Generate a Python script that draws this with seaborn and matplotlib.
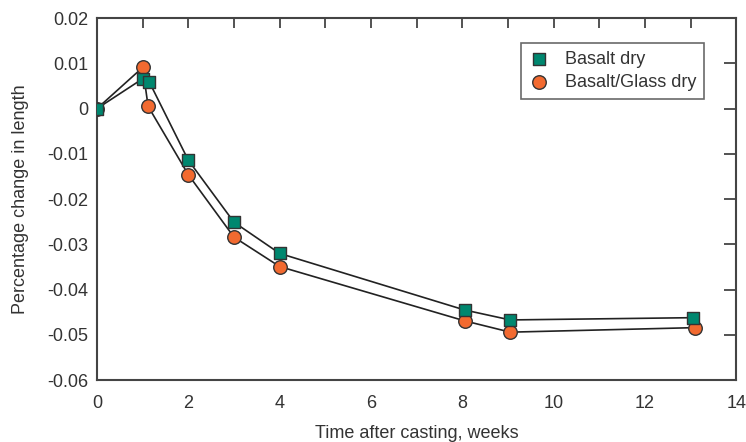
import matplotlib
matplotlib.use("Agg")
import matplotlib.pyplot as plt
import seaborn as sns
import pandas as pd
from matplotlib.ticker import MultipleLocator

# data
basalt_weeks = [0, 1.0, 1.15, 2.0, 3.0, 4.0, 8.05, 9.05, 13.05]
basalt_change = [0.0, 0.0066, 0.0058, -0.0114, -0.0251, -0.0320, -0.0445, -0.0467, -0.0462]
glass_weeks = [0, 1.0, 1.12, 2.0, 3.0, 4.0, 8.05, 9.05, 13.1]
glass_change = [0.0, 0.0091, 0.0005, -0.0146, -0.0284, -0.0349, -0.0469, -0.0494, -0.0484]
series_names = ["Basalt dry", "Basalt/Glass dry"]
x_ticks = [0, 2, 4, 6, 8, 10, 12, 14]
y_ticks = [0.02, 0.01, 0, -0.01, -0.02, -0.03, -0.04, -0.05, -0.06]
y_tick_labels = ["0.02", "0.01", "0", "-0.01", "-0.02", "-0.03", "-0.04", "-0.05", "-0.06"]

sns.set_style("white")
plt.rcParams['font.family'] = ['Liberation Sans', 'DejaVu Sans']

df_b = pd.DataFrame({"x": basalt_weeks, "y": basalt_change})
df_g = pd.DataFrame({"x": glass_weeks, "y": glass_change})

fig = plt.figure(figsize=(7.46, 4.42), dpi=100)
ax = fig.add_axes([0.130, 0.140, 0.857, 0.819])

sns.lineplot(data=df_b, x="x", y="y", ax=ax, color="#222222", lw=1.2, sort=False, zorder=2)
sns.lineplot(data=df_g, x="x", y="y", ax=ax, color="#222222", lw=1.2, sort=False, zorder=2)
sns.scatterplot(data=df_g, x="x", y="y", ax=ax, marker="o", s=95, color="#F26A30",
                edgecolor="#333333", linewidth=1.0, zorder=3, label=series_names[1])
sns.scatterplot(data=df_b, x="x", y="y", ax=ax, marker="s", s=78, color="#00876F",
                edgecolor="#333333", linewidth=1.0, zorder=4, label=series_names[0])

ax.set_xlim(0, 14)
ax.set_ylim(-0.06, 0.02)
ax.set_xticks(x_ticks)
ax.set_xticklabels([str(t) for t in x_ticks])
ax.xaxis.set_minor_locator(MultipleLocator(1))
ax.set_yticks(y_ticks)
ax.set_yticklabels(y_tick_labels)

tc = "#333333"
fs = 13
for s in ax.spines.values():
    s.set_color("#444444")
    s.set_linewidth(1.5)
ax.tick_params(which="both", direction="in", top=True, right=True, color="#444444",
               width=1.3, labelcolor=tc, labelsize=fs)
ax.tick_params(axis="x", which="both", length=7, pad=11)
ax.tick_params(axis="y", which="major", length=9, pad=6)

ax.set_xlabel("Time after casting, weeks", fontsize=fs, color=tc, labelpad=9)
ax.set_ylabel("Percentage change in length", fontsize=fs, color=tc, labelpad=13)

handles, labels = ax.get_legend_handles_labels()
order = [labels.index(n) for n in series_names]
leg = ax.legend([handles[i] for i in order], [labels[i] for i in order],
                loc="upper right", bbox_to_anchor=(0.964, 0.957), fontsize=fs,
                frameon=True, fancybox=False, edgecolor="#444444", handletextpad=0.8,
                borderpad=0.45, labelspacing=0.35, handlelength=1.2)
leg.get_frame().set_linewidth(1.2)
for t in leg.get_texts():
    t.set_color(tc)

fig.savefig("out.png", dpi=100)
